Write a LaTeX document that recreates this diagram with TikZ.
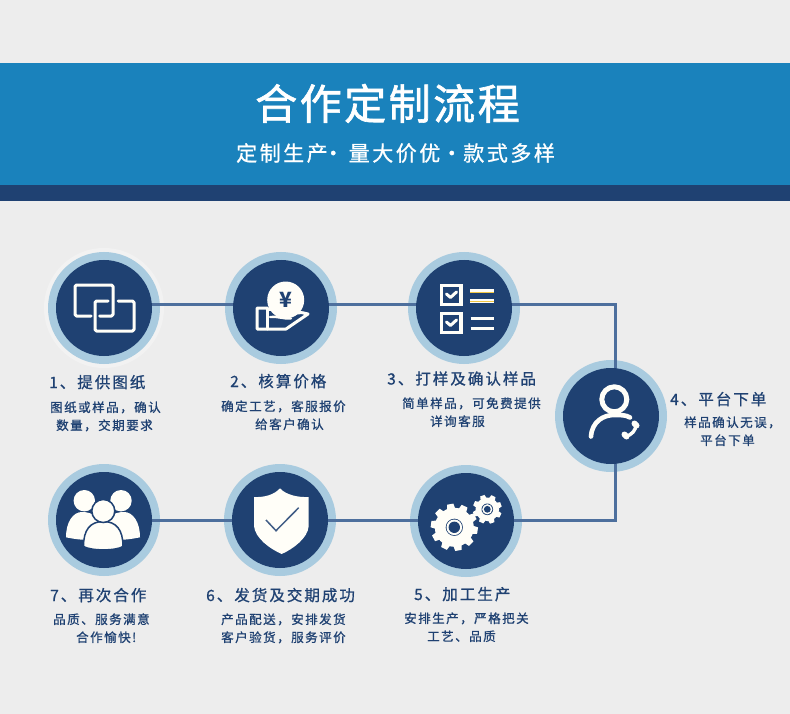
\documentclass[tikz,border=0pt]{standalone}
\usepackage{fontspec}
\usetikzlibrary{calc}
\setmainfont{Noto Sans CJK SC}
\newfontfamily\fhead[LetterSpace=6,FakeBold=1.5]{Noto Sans CJK SC}
\newfontfamily\fsub[LetterSpace=12,FakeBold=1]{Noto Sans CJK SC}
\newfontfamily\fttl[LetterSpace=13,FakeBold=0.9]{Noto Sans CJK SC}
\newfontfamily\fbody[LetterSpace=12,FakeBold=1]{Noto Sans CJK SC}
\definecolor{bgc}{HTML}{EDEDED}
\definecolor{bandc}{HTML}{1A82BC}
\definecolor{navy}{HTML}{1F4172}
\definecolor{ringc}{HTML}{A9CBDF}
\definecolor{glowc}{HTML}{F2F2F2}
\definecolor{linkc}{HTML}{4D6F9D}
\definecolor{icoc}{HTML}{FFFEF8}
\definecolor{goldc}{HTML}{F3C845}
\tikzset{
  ring/.style={circle,fill=ringc,minimum size=112pt,inner sep=0pt},
  core/.style={circle,fill=navy,minimum size=96pt,inner sep=0pt},
  link/.style={draw=linkc,line width=3pt,line join=miter},
  ttl/.style={anchor=base west,inner sep=0pt,text=navy,font=\fontsize{15.5}{18}\fttl},
  bdy/.style={anchor=base west,inner sep=0pt,text=navy,font=\fontsize{12.5}{15}\fbody},
  ico/.style={draw=icoc,line width=3pt,line join=round,line cap=round},
  icof/.style={fill=icoc},
}
\begin{document}
\begin{tikzpicture}[x=1pt,y=-1pt]
\useasboundingbox (0,0) rectangle (790,714);
\fill[bgc] (0,0) rectangle (790,714);
\fill[bandc] (0,63) rectangle (790,185);
\fill[navy] (0,185) rectangle (790,201);
\node[anchor=base west,inner sep=0pt,text=white,font=\fontsize{42}{46}\fhead] (head) at (255,119.5) {合作定制流程};
\node[anchor=base west,inner sep=0pt,text=white,font=\fontsize{21}{24}\fsub] (sub) at (236,161) {定制生产\kern-5pt·\kern5pt 量大价优\kern1pt ·\kern1pt 款式多样};
% rings
\fill[glowc] (104,308) circle[radius=60];
\node[ring] (o1) at (104,308) {};
\node[ring] (o2) at (281,308) {};
\node[ring] (o3) at (464,308) {};
\node[ring] (o4) at (611,416) {};
\node[ring] (o5) at (466,521) {};
\node[ring] (o6) at (280,520) {};
\node[ring] (o7) at (104,520) {};
% connectors
\coordinate (ctop) at (615,304);
\coordinate (cbot) at (615,520);
\draw[link] (o1.center |- ctop) -- (o2.center |- ctop);
\draw[link] (o2.center |- ctop) -- (o3.center |- ctop);
\draw[link] (o3.center |- ctop) -- (ctop) -- (ctop |- o4.center);
\draw[link] (o7.center) -- (o6.center);
\draw[link] (o6.center) -- (o5.center |- o6.center);
\draw[link] (o5.center |- o6.center) -- (cbot) -- (cbot |- o4.center);
% cores
\node[core] (n1) at (o1.center) {};
\node[core] (n2) at (o2.center) {};
\node[core] (n3) at (o3.center) {};
\node[core] (n4) at (o4.center) {};
\node[core] (n5) at (o5.center) {};
\node[core] (n6) at (o6.center) {};
\node[core] (n7) at (o7.center) {};
% icon 1
\begin{scope}[shift={(104,308)}]
\draw[ico,rounded corners=1.5pt] (-13,8) -- (-29,8) -- (-29,-23) -- (9,-23) -- (9,8) -- (-4.5,8);
\draw[ico,rounded corners=1.5pt] (4,-7) -- (-9,-7) -- (-9,23) -- (30,23) -- (30,-7) -- (14,-7);
\end{scope}
% icon 2
\begin{scope}[shift={(281,308)}]
\draw[ico] (-14.5,0) -- (-24,0) -- (-24,21) -- (5,21) -- (27,6) .. controls (20,3) and (12,6) .. (3,7) .. controls (-2,4) and (-8,1) .. (-14,1);
\draw[ico] (-14,0) -- (-14,21);
\fill[icof] (4.7,-8) circle[radius=18.5];
\draw[ico,line width=2.4pt] (-11,9) .. controls (-4,8) and (2,11) .. (10,10.5);
\node[text=navy,font=\fontsize{21}{22}\bfseries,inner sep=0pt] (yen) at (4.7,-8) {¥};
\end{scope}
% icon 3
\begin{scope}[shift={(464,308)}]
\draw[ico,line width=3.4pt,line cap=butt,line join=miter] (-22.5,-22.5) rectangle (-3,-3.5);
\draw[ico,line width=3.4pt,line cap=butt,line join=miter] (-22.5,5.5) rectangle (-3,24.5);
\draw[ico] (-17.5,-14) -- (-13.5,-10.5) -- (-7.5,-16);
\draw[ico] (-17.5,14) -- (-13.5,17.5) -- (-7.5,12);
\draw[draw=icoc,line width=4pt] (6,-17) -- (30,-17);
\draw[draw=icoc,line width=4pt] (6,-7.5) -- (30,-7.5);
\draw[draw=goldc,line width=1pt] (6,-16) -- (30,-16);
\draw[draw=goldc,line width=1pt] (6,-6.5) -- (30,-6.5);
\draw[draw=icoc,line width=3.6pt] (6.5,10.5) -- (30,10.5);
\draw[draw=icoc,line width=3.6pt] (6.5,20.5) -- (30,20.5);
\end{scope}
% icon 4
\begin{scope}[shift={(611,416)}]
\draw[ico,line width=5pt] (3.3,-16.7) circle[radius=12.5];
\draw[ico,line width=4.6pt] (-20,20.5) .. controls (-19,5) and (-7,-1) .. (3,-1) .. controls (10,-1) and (15,-1) .. (19,1.5);
\draw[ico,line width=3.4pt] (25,8.5) .. controls (25,14) and (21,19) .. (14.5,20.5);
\draw[ico,line width=6pt] (23.5,7.5) -- (25.5,9.5);
\draw[ico,line width=6pt] (13.5,18.5) -- (15.5,20.5);
\end{scope}
% icon 5
\begin{scope}[shift={(466,521)}]
\foreach \a in {0,36,...,324}
  \fill[icof,shift={(-11.7,6.3)},rotate=\a+10] (-4.2,-18) -- (-3.2,-23.5) -- (3.2,-23.5) -- (4.2,-18) -- cycle;
\fill[icof] (-11.7,6.3) circle[radius=19.5];
\fill[navy] (-11.7,6.3) circle[radius=8.6];
\fill[icof] (-11.7,6.3) circle[radius=7.8];
\fill[navy] (-11.7,6.3) circle[radius=5.7];
\foreach \a in {0,45,...,315}
  \fill[icof,shift={(21.3,-11.7)},rotate=\a+20] (-3.1,-11) -- (-2.3,-14.5) -- (2.3,-14.5) -- (3.1,-11) -- cycle;
\fill[icof] (21.3,-11.7) circle[radius=11.8];
\fill[navy] (21.3,-11.7) circle[radius=5.8];
\fill[icof] (21.3,-11.7) circle[radius=5.1];
\fill[navy] (21.3,-11.7) circle[radius=3.4];
\end{scope}
% icon 6
\begin{scope}[shift={(280,520)}]
\fill[icof] (0,-31.7) .. controls (-6,-25) and (-16,-22.5) .. (-26,-23) -- (-26,6) .. controls (-25,18) and (-10,29) .. (1.7,34) .. controls (13,29) and (28,18) .. (28.7,6) -- (28.7,-23) .. controls (18,-22.5) and (6,-25) .. (0,-31.7) -- cycle;
\draw[draw=navy!85!icoc,line width=1.5pt] (-14,0) -- (-4,10.7) -- (18.7,-12.3);
\end{scope}
% icon 7
\begin{scope}[shift={(104,520)}]
\fill[icof] (-19.7,-19.3) circle[radius=10.7];
\fill[icof] (17,-19.3) circle[radius=10.7];
\fill[icof] (-38,17.3) .. controls (-38,2) and (-31,-8) .. (-22,-8) .. controls (-13,-8) and (-8,-4) .. (-6,0) -- (-14,17) -- (-14,20) .. controls (-22,20) and (-30,19) .. (-38,17.3) -- cycle;
\fill[icof] (36,17.3) .. controls (36,2) and (29,-8) .. (20,-8) .. controls (11,-8) and (6,-4) .. (4,0) -- (12,17) -- (12,20) .. controls (20,20) and (28,19) .. (36,17.3) -- cycle;
\fill[icof,draw=navy,line width=1.5pt] (-20.5,26.5) .. controls (-20.5,10) and (-14,1.5) .. (-0.7,1.5) .. controls (12.5,1.5) and (19,10) .. (19,26.5) .. controls (12,31) and (-13,31) .. (-20.5,26.5) -- cycle;
\fill[icof,draw=navy,line width=1.5pt] (-0.7,-9) circle[radius=11.5];
\end{scope}
% texts
\node[ttl] (t1) at (49,388) {1、提供图纸};
\node[bdy] (b1a) at (50,412) {图纸或样品，确认};
\node[bdy] (b1b) at (56,430) {数量，交期要求};
\node[ttl] (t2) at (230,387) {2、核算价格};
\node[bdy] (b2a) at (221,411) {确定工艺，客服报价};
\node[bdy] (b2b) at (255,429) {给客户确认};
\node[ttl] (t3) at (387,384.5) {3、打样及确认样品};
\node[bdy] (b3a) at (402,408) {简单样品，可免费提供};
\node[bdy] (b3b) at (430,426) {详询客服};
\node[ttl] (t4) at (670,405) {4、平台下单};
\node[bdy] (b4a) at (684,427) {样品确认无误，};
\node[bdy] (b4b) at (700,445) {平台下单};
\node[ttl] (t5) at (414,600) {5、加工生产};
\node[bdy] (b5a) at (404,623) {安排生产，严格把关};
\node[bdy] (b5b) at (427,641) {工艺、品质};
\node[ttl] (t6) at (206,601) {6、发货及交期成功};
\node[bdy] (b6a) at (221,624) {产品配送，安排发货};
\node[bdy] (b6b) at (221,642) {客户验货，服务评价};
\node[ttl] (t7) at (50,601) {7、再次合作};
\node[bdy] (b7a) at (53,624) {品质、服务满意};
\node[bdy] (b7b) at (76,642) {合作愉快!};
\end{tikzpicture}
\end{document}
